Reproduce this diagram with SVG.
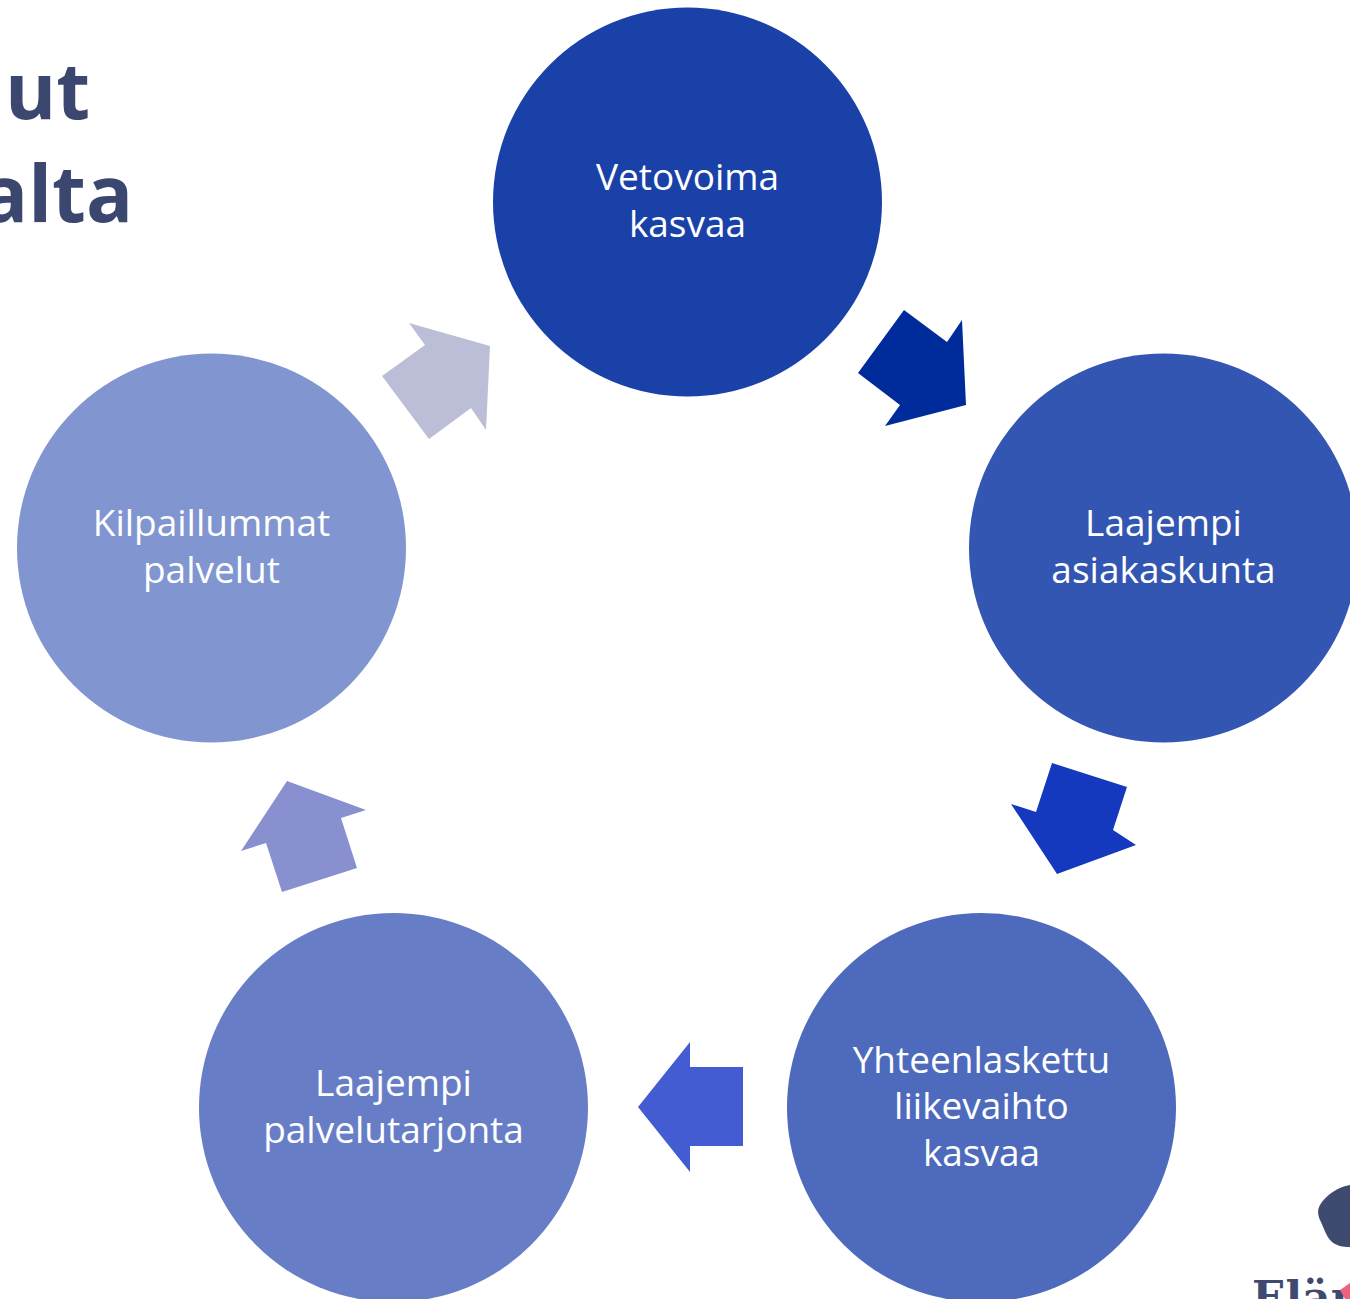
<svg xmlns="http://www.w3.org/2000/svg" width="1350" height="1299" viewBox="0 0 1350 1299">
<style>
.l{font-family:"Open Sans","Noto Sans","Liberation Sans",sans-serif;font-size:37px;fill:#fff;text-anchor:middle}
.t{font-family:"Open Sans","Noto Sans","Liberation Sans",sans-serif;font-size:78px;font-weight:700;fill:#3c476f}
</style>
<rect width="1350" height="1299" fill="#fff"/>
<g id="title">
<text class="t" x="90" y="119" text-anchor="end">ut</text>
<text class="t" x="133" y="222" text-anchor="end">alta</text>
</g>
<g id="connectors">
<polygon fill="#002c9b" points="904,310 947,342 962,320 966,405 885,426 900,405 858,373"/>
<polygon fill="#1439bf" points="1052,763 1127,787 1113,830 1136,845 1057,874 1011,804 1036,812"/>
<polygon fill="#435cd1" points="743,1067 690,1067 690,1042 638,1107 690,1172 690,1146 743,1146"/>
<polygon fill="#8890cf" points="282,892 357,868 341,818 366,810 287,781 241,851 266,843"/>
<polygon fill="#bbbed6" points="429,439 382,376 425,345 409,323 490,346 486,430 471,408"/>
</g>
<g id="n1"><circle cx="687.500" cy="202" r="194.500" fill="#1a41a8"/>
<text class="l" x="687.500" y="190">Vetovoima</text><text class="l" x="687.500" y="237">kasvaa</text></g>
<g id="n2"><circle cx="1163.500" cy="548" r="194.500" fill="#3356b2"/>
<text class="l" x="1163.500" y="536">Laajempi</text><text class="l" x="1163.500" y="583">asiakaskunta</text></g>
<g id="n3"><circle cx="981.500" cy="1107.500" r="194.500" fill="#4d6abc"/>
<text class="l" x="981.500" y="1073">Yhteenlaskettu</text><text class="l" x="981.500" y="1119">liikevaihto</text><text class="l" x="981.500" y="1166">kasvaa</text></g>
<g id="n4"><circle cx="393.500" cy="1107.500" r="194.500" fill="#677ec7"/>
<text class="l" x="393.500" y="1096">Laajempi</text><text class="l" x="393.500" y="1143">palvelutarjonta</text></g>
<g id="n5"><circle cx="211.500" cy="548" r="194.500" fill="#8195d0"/>
<text class="l" x="211.500" y="536">Kilpaillummat</text><text class="l" x="211.500" y="583">palvelut</text></g>
<g id="logo">
<path fill="#3f4a70" d="M1350,1185 C1338,1187 1326,1195 1320,1205 C1317,1210 1318,1215 1320,1220 C1324,1228 1326,1236 1331,1241 C1336,1246 1343,1247 1350,1247 Z"/>
<text x="1252" y="1313" font-family="'DejaVu Serif','Liberation Serif',serif" font-weight="700" font-size="44" fill="#3f4a70">Eläm</text>
<path fill="#f0617f" d="M1350,1283 L1340,1290 L1345,1299 L1350,1299 Z"/>
</g>
</svg>
